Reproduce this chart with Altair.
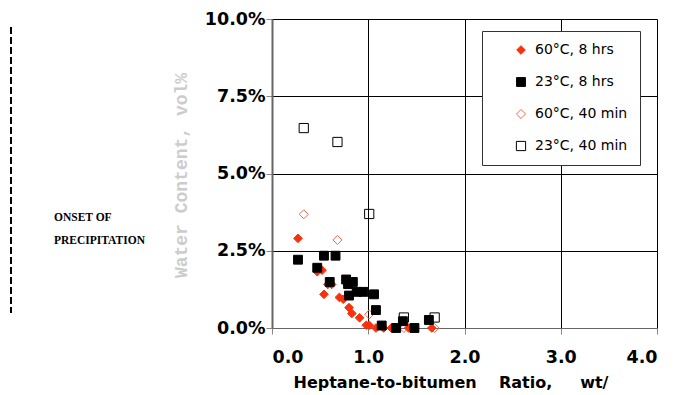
import altair as alt
import pandas as pd

series_names = ["60°C, 8 hrs", "23°C, 8 hrs", "60°C, 40 min", "23°C, 40 min"]

x_60_8h = [0.27, 0.47, 0.52, 0.54, 0.58, 0.62, 0.70, 0.74, 0.80, 0.83, 0.91, 0.98, 1.01, 1.08, 1.16, 1.24, 1.42, 1.66]
y_60_8h = [2.90, 1.82, 1.87, 1.09, 1.41, 1.41, 0.99, 0.93, 0.66, 0.47, 0.33, 0.09, 0.09, 0.00, 0.00, 0.00, 0.00, 0.00]

x_23_8h = [0.27, 0.54, 0.66, 0.47, 0.60, 0.77, 0.84, 0.79, 0.80, 0.88, 0.95, 1.06, 1.08, 1.14, 1.29, 1.36, 1.48, 1.63]
y_23_8h = [2.21, 2.34, 2.34, 1.95, 1.49, 1.57, 1.49, 1.42, 1.05, 1.17, 1.17, 1.09, 0.58, 0.08, 0.00, 0.22, 0.00, 0.26]

x_60_40m = [0.33, 0.68, 1.01, 1.37, 1.69]
y_60_40m = [3.68, 2.85, 0.44, 0.00, 0.00]

x_23_40m = [0.33, 0.68, 1.01, 1.37, 1.69]
y_23_40m = [6.47, 6.02, 3.69, 0.34, 0.34]

x_ticks = [0, 1, 2, 3, 4]
y_ticks = [0.0, 0.025, 0.05, 0.075, 0.10]

x_title = "Heptane-to-bitumen" + "\u00a0" * 4 + "Ratio," + "\u00a0" * 5 + "wt/"
y_title = "Water Content, vol%"
onset_text = "ONSET OF\nPRECIPITATION"

red = "#f7320c"
red_light = "#f0684c"

rows = []
draw_order = [(3, x_23_40m, y_23_40m), (2, x_60_40m, y_60_40m), (0, x_60_8h, y_60_8h), (1, x_23_8h, y_23_8h)]
k = 0
for idx, xs, ys in draw_order:
    for xv, yv in zip(xs, ys):
        rows.append({"series": series_names[idx], "ratio": xv, "water": yv / 100.0, "o": k})
        k += 1
df = pd.DataFrame(rows)

leg = alt.Legend(
    title=None, orient="none", legendX=210, legendY=12,
    fillColor="white", strokeColor="#333", padding=12,
    labelFont="DejaVu Sans", labelFontSize=14, labelColor="black",
    rowPadding=18, symbolOffset=20, labelOffset=7, symbolStrokeWidth=1,
)

dom = series_names
points = alt.Chart(df).mark_point(opacity=1, strokeWidth=1).encode(
    x=alt.X("ratio:Q", scale=alt.Scale(domain=[0, 4], nice=False),
            axis=alt.Axis(values=x_ticks, format=".1f", title=x_title,
                          titleFont="DejaVu Sans", titleFontSize=16, titleFontWeight="bold",
                          titleColor="black", titleAlign="left", titleAnchor="start",
                          titleX=21, titleY=59, titleBaseline="alphabetic",
                          labelPadding=14, tickSize=6)),
    y=alt.Y("water:Q", scale=alt.Scale(domain=[0, 0.10], nice=False),
            axis=alt.Axis(values=y_ticks, format=".1%", title=y_title,
                          titleFont="Liberation Mono", titleFontSize=18, titleFontWeight="bold",
                          titleColor="#cccccc", titleAngle=-90, titleX=-91, titleY=156,
                          titleAlign="center", titleBaseline="middle",
                          labelPadding=1, tickSize=6, domainWidth=2)),
    shape=alt.Shape("series:N", scale=alt.Scale(domain=dom, range=["diamond", "square", "diamond", "square"]), legend=leg),
    stroke=alt.Stroke("series:N", scale=alt.Scale(domain=dom, range=[red, "black", red_light, "black"]), legend=leg),
    fill=alt.Fill("series:N", scale=alt.Scale(domain=dom, range=[red, "black", "transparent", "transparent"]), legend=leg),
    size=alt.Size("series:N", scale=alt.Scale(domain=dom, range=[75, 85, 60, 45]), legend=leg),
    order=alt.Order("o:Q"),
)

onset = alt.Chart(pd.DataFrame({"t": [onset_text]})).mark_text(
    font="Liberation Serif", fontWeight="bold", fontSize=11.5, align="left",
    baseline="middle", lineBreak="\n", lineHeight=23, color="black",
).encode(text="t:N", x=alt.value(-218), y=alt.value(199))

dash = alt.Chart(pd.DataFrame({"a": [0]})).mark_rule(
    strokeDash=[7, 3], strokeWidth=2, color="black"
).encode(x=alt.value(-261), y=alt.value(8), y2=alt.value(294))

chart = alt.layer(points, onset, dash).properties(
    width=385, height=309,
    padding={"left": 264, "top": 11, "right": 14, "bottom": 64},
    autosize="none",
).configure_view(stroke=None).configure_axis(
    grid=True, gridColor="black", gridOpacity=1, gridWidth=1,
    labelFont="DejaVu Sans", labelFontWeight="bold", labelFontSize=17.5, labelColor="black",
    tickColor="#888", domainColor="#666",
)

chart.save("out.html", embed_options={"renderer": "svg", "actions": False})
